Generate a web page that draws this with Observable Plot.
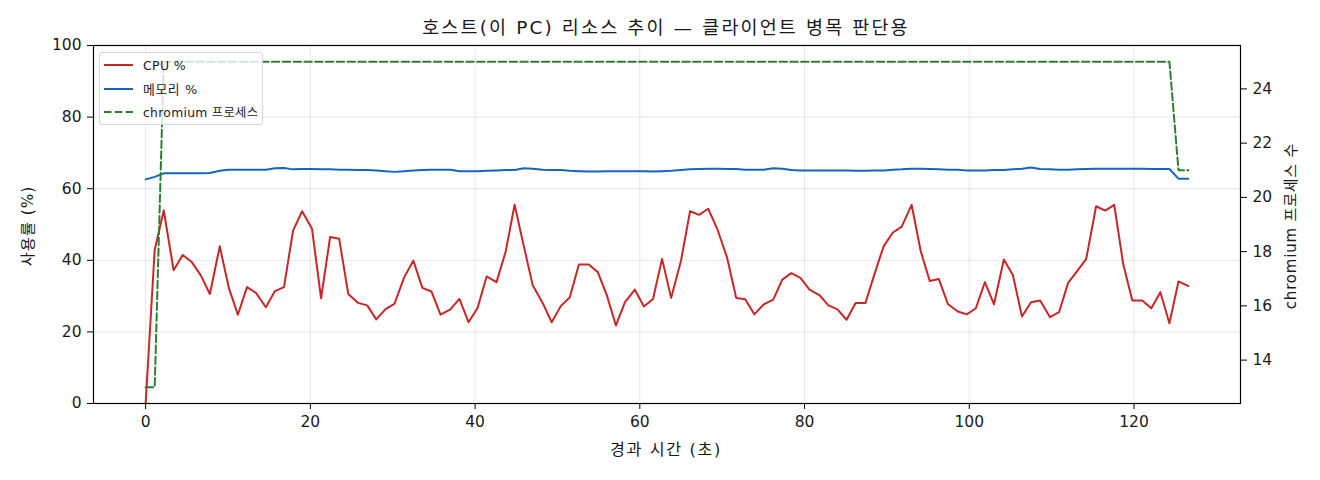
<!DOCTYPE html>
<html>
<head>
<meta charset="utf-8">
<script src="https://cdn.jsdelivr.net/npm/d3@7"></script>
<script src="https://cdn.jsdelivr.net/npm/@observablehq/plot@0.6"></script>
<style>
  html, body { margin: 0; padding: 0; background: #fff; }
  body { width: 1320px; height: 480px; position: relative; overflow: hidden;
         font-family: "DejaVu Sans", "Noto Sans CJK KR", sans-serif; color: #1a1a1a; }
  .lbl { position: absolute; white-space: nowrap; display: inline-block;
         transform: translate(-50%, -50%); line-height: 1; }
  .rot { transform: translate(-50%, -50%) rotate(-90deg); }
  #legend { position: absolute; left: 99px; top: 52px; width: 164px; height: 73px;
            background: rgba(255,255,255,0.8); border: 1px solid #d6d6d6; border-radius: 3px;
            box-sizing: border-box; font-size: 12px; }
  .row { position: absolute; left: 4px; height: 16px; display: flex; align-items: center; white-space: nowrap; }
  .row svg { margin-right: 10px; }
</style>
</head>
<body>
<div id="chart"></div>
<div id="legend"></div>
<script>
// elapsed time (seconds) of each sample
const times = [0, 1.1, 2.2, 3.4, 4.5, 5.6, 6.7, 7.8, 9.0, 10.1, 11.2, 12.3, 13.4, 14.6, 15.7, 16.8, 17.9, 19.0, 20.2, 21.3,
  22.4, 23.5, 24.6, 25.8, 26.9, 28.0, 29.1, 30.2, 31.4, 32.5, 33.6, 34.7, 35.8, 37.0, 38.1, 39.2, 40.3, 41.4, 42.6, 43.7,
  44.8, 45.9, 47.0, 48.2, 49.3, 50.4, 51.5, 52.6, 53.8, 54.9, 56.0, 57.1, 58.2, 59.4, 60.5, 61.6, 62.7, 63.8, 65.0, 66.1,
  67.2, 68.3, 69.4, 70.6, 71.7, 72.8, 73.9, 75.0, 76.2, 77.3, 78.4, 79.5, 80.6, 81.8, 82.9, 84.0, 85.1, 86.2, 87.4, 88.5,
  89.6, 90.7, 91.8, 93.0, 94.1, 95.2, 96.3, 97.4, 98.6, 99.7, 100.8, 101.9, 103.0, 104.2, 105.3, 106.4, 107.5, 108.6, 109.8, 110.9,
  112.0, 113.1, 114.2, 115.4, 116.5, 117.6, 118.7, 119.8, 121.0, 122.1, 123.2, 124.3, 125.4, 126.6];

// CPU %
const cpu = [0, 42.9, 53.9, 37.2, 41.5, 39.5, 35.8, 30.6, 43.9, 32.3, 24.8, 32.5, 30.9, 26.9, 31.4, 32.5, 48.3, 53.7, 48.8, 29.4,
  46.5, 46.0, 30.6, 28.1, 27.4, 23.5, 26.3, 27.8, 35.3, 39.9, 32.3, 31.3, 24.8, 26.3, 29.2, 22.7, 26.7, 35.5, 33.9, 42.3,
  55.5, 44.1, 33.0, 28.1, 22.7, 27.2, 29.7, 38.8, 38.8, 36.7, 30.2, 21.8, 28.3, 31.8, 27.1, 29.2, 40.4, 29.5, 39.9, 53.7,
  52.7, 54.4, 48.8, 40.7, 29.5, 29.1, 24.9, 27.6, 29.0, 34.6, 36.4, 35.1, 31.8, 30.3, 27.4, 26.3, 23.4, 28.1, 28.1, 36.2,
  43.9, 47.7, 49.4, 55.5, 42.6, 34.2, 34.8, 27.8, 25.7, 24.9, 26.6, 33.9, 27.7, 40.2, 35.8, 24.3, 28.3, 28.8, 24.1, 25.5,
  33.7, 37.0, 40.4, 55.1, 53.9, 55.5, 38.8, 28.8, 28.8, 26.6, 31.1, 22.4, 34.1, 32.8];

// Memory %
const mem = [62.6, 63.3, 64.3, 64.3, 64.3, 64.3, 64.3, 64.4, 65.0, 65.3, 65.3, 65.3, 65.3, 65.3, 65.7, 65.8, 65.4, 65.5, 65.5, 65.4,
  65.4, 65.3, 65.3, 65.2, 65.2, 65.1, 64.9, 64.7, 64.9, 65.1, 65.2, 65.3, 65.3, 65.3, 64.9, 64.9, 64.9, 65.0, 65.1, 65.2,
  65.2, 65.7, 65.6, 65.3, 65.2, 65.2, 65.0, 64.9, 64.8, 64.8, 64.9, 64.9, 64.9, 64.9, 64.9, 64.8, 64.9, 65.0, 65.2, 65.4,
  65.5, 65.6, 65.6, 65.5, 65.5, 65.3, 65.3, 65.3, 65.7, 65.6, 65.2, 65.1, 65.1, 65.1, 65.1, 65.1, 65.1, 65.0, 65.0, 65.1,
  65.1, 65.3, 65.4, 65.6, 65.6, 65.5, 65.4, 65.3, 65.3, 65.1, 65.1, 65.1, 65.2, 65.2, 65.4, 65.6, 65.9, 65.5, 65.4, 65.3,
  65.3, 65.4, 65.5, 65.6, 65.6, 65.6, 65.6, 65.6, 65.6, 65.5, 65.5, 65.5, 62.8, 62.8];

// chromium process count
const procs = [13, 13, 25, 25, 25, 25, 25, 25, 25, 25, 25, 25, 25, 25, 25, 25, 25, 25, 25, 25,
  25, 25, 25, 25, 25, 25, 25, 25, 25, 25, 25, 25, 25, 25, 25, 25, 25, 25, 25, 25,
  25, 25, 25, 25, 25, 25, 25, 25, 25, 25, 25, 25, 25, 25, 25, 25, 25, 25, 25, 25,
  25, 25, 25, 25, 25, 25, 25, 25, 25, 25, 25, 25, 25, 25, 25, 25, 25, 25, 25, 25,
  25, 25, 25, 25, 25, 25, 25, 25, 25, 25, 25, 25, 25, 25, 25, 25, 25, 25, 25, 25,
  25, 25, 25, 25, 25, 25, 25, 25, 25, 25, 25, 25, 21, 21];

const xTicks = [0, 20, 40, 60, 80, 100, 120];
const yTicks = [0, 20, 40, 60, 80, 100];
const rightTicks = [14, 16, 18, 20, 22, 24];

const seriesNames = ["CPU %", "메모리 %", "chromium 프로세스"];
const colors = ["#c62828", "#1565c0", "#2e7d32"];

const titleText = "호스트(이 PC) 리소스 추이 — 클라이언트 병목 판단용";
const xLabel = "경과 시간 (초)";
const yLabel = "사용률 (%)";
const y2Label = "chromium 프로세스 수";

const xDomain = [-6.33, 132.93];
const rightDomain = [12.4, 25.6];
const toLeft = v => (v - rightDomain[0]) / (rightDomain[1] - rightDomain[0]) * 100;
const fromLeft = d => rightDomain[0] + d / 100 * (rightDomain[1] - rightDomain[0]);

const rows = times.map((t, i) => ({t, cpu: cpu[i], mem: mem[i], procs: procs[i], procsL: toLeft(procs[i])}));

const dash = "7.5,3.3";
const lw = 2;

const chart = Plot.plot({
  width: 1320, height: 480,
  marginLeft: 93, marginRight: 80, marginTop: 45, marginBottom: 77,
  style: {fontFamily: "'DejaVu Sans', 'Noto Sans CJK KR', sans-serif", fontSize: "15.5px", color: "#1a1a1a", background: "#fff"},
  x: {domain: xDomain},
  y: {domain: [0, 100]},
  marks: [
    Plot.gridX(xTicks, {stroke: "#b0b0b0", strokeOpacity: 0.35, strokeWidth: 0.9}),
    Plot.gridY(yTicks, {stroke: "#b0b0b0", strokeOpacity: 0.35, strokeWidth: 0.9}),
    Plot.axisX(xTicks, {tickSize: 6, tickPadding: 6, stroke: "#000", label: null}),
    Plot.axisY(yTicks, {tickSize: 6, tickPadding: 6, stroke: "#000", label: null}),
    Plot.axisY(rightTicks.map(toLeft), {anchor: "right", tickSize: 6, tickPadding: 6, stroke: "#000",
      tickFormat: d => String(Math.round(fromLeft(d))), label: null}),
    Plot.line(rows, {x: "t", y: "cpu", stroke: colors[0], strokeWidth: lw}),
    Plot.line(rows, {x: "t", y: "mem", stroke: colors[1], strokeWidth: lw}),
    Plot.line(rows, {x: "t", y: "procsL", stroke: colors[2], strokeWidth: lw, strokeDasharray: dash}),
    Plot.frame({stroke: "#000", strokeWidth: 1.2})
  ]
});
document.getElementById("chart").appendChild(chart);

// text overlays: grow the font part of the way, then even out the spacing to the reference width
function fitText(el, size, target) {
  el.style.fontSize = size + "px";
  el.style.letterSpacing = "0px";
  const w0 = el.offsetWidth;
  const s = size * Math.min(1.3, Math.sqrt(target / w0));
  el.style.fontSize = s + "px";
  const w1 = el.offsetWidth;
  el.style.letterSpacing = ((target - w1) / [...el.textContent].length) + "px";
}
function addLabel(text, cx, cy, size, target, rotated) {
  const el = document.createElement("span");
  el.className = "lbl" + (rotated ? " rot" : "");
  el.textContent = text;
  el.style.left = cx + "px";
  el.style.top = cy + "px";
  document.body.appendChild(el);
  fitText(el, size, target);
  return el;
}
addLabel(titleText, 666, 28, 16, 488, false);
addLabel(xLabel, 666, 450, 14, 112, false);
addLabel(yLabel, 29, 226, 14, 80, true);
addLabel(y2Label, 1292, 226, 14, 166, true);

const legend = document.getElementById("legend");
const legendWidths = [43, 55, 115];
seriesNames.forEach((name, i) => {
  const row = document.createElement("div");
  row.className = "row";
  row.style.top = (4 + i * 23.5) + "px";
  const ns = "http://www.w3.org/2000/svg";
  const sw = document.createElementNS(ns, "svg");
  sw.setAttribute("width", "29"); sw.setAttribute("height", "8");
  const ln = document.createElementNS(ns, "line");
  ln.setAttribute("x1", "0"); ln.setAttribute("x2", "29");
  ln.setAttribute("y1", "4"); ln.setAttribute("y2", "4");
  ln.setAttribute("stroke", colors[i]); ln.setAttribute("stroke-width", lw);
  if (i === 2) ln.setAttribute("stroke-dasharray", dash);
  sw.appendChild(ln);
  const label = document.createElement("span");
  label.textContent = name;
  row.appendChild(sw);
  row.appendChild(label);
  legend.appendChild(row);
  fitText(label, 12, legendWidths[i]);
});
</script>
</body>
</html>
